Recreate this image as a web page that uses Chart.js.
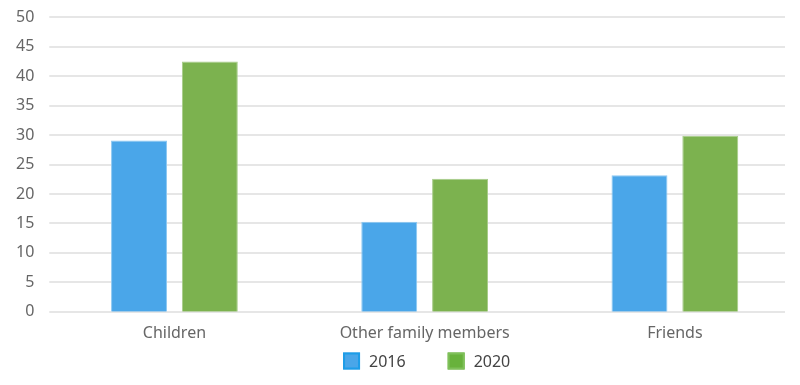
<!DOCTYPE html>
<html>
<head>
<meta charset="utf-8">
<script src="https://cdn.jsdelivr.net/npm/chart.js@4"></script>
<style>
  html, body { margin: 0; padding: 0; background: #fff; }
  #wrap { width: 800px; height: 385px; }
</style>
</head>
<body>
<div id="wrap"><canvas id="chart" width="800" height="385"></canvas></div>
<script>
const categories = ['Children', 'Other family members', 'Friends'];
const series2016 = [29.1, 15.3, 23.2];
const series2020 = [42.5, 22.6, 29.9];
const yTicks = [0, 5, 10, 15, 20, 25, 30, 35, 40, 45, 50];

const fontFamily = '"Noto Sans", "DejaVu Sans", sans-serif';
const legendStrokes = ['#1d9de8', '#7fc05a'];
const legendFills = ['#4aa6e9', '#68b23c'];

// horizontal grid lines stop short of the right edge, as in the reference
const gridPlugin = {
    id: 'shortGrid',
    beforeDatasetsDraw(chart) {
        const c = chart.ctx;
        const y = chart.scales.y;
        const area = chart.chartArea;
        c.save();
        c.strokeStyle = '#e6e6e6';
        c.lineWidth = 2;
        y.ticks.forEach(function(t) {
            const py = Math.round(y.getPixelForValue(t.value));
            c.beginPath();
            c.moveTo(area.left, py);
            c.lineTo(785, py);
            c.stroke();
        });
        c.restore();
    }
};

// legend drawn under the axis, centred on the plot area
const legendPlugin = {
    id: 'bottomLegend',
    afterDraw(chart) {
        const c = chart.ctx;
        const area = chart.chartArea;
        const box = 17, gap = 9, spacing = 42;
        c.save();
        c.font = '16px ' + fontFamily;
        c.textBaseline = 'middle';
        const items = chart.data.datasets.map(function(ds, i) {
            return { text: ds.label, w: box + gap + c.measureText(ds.label).width, i: i };
        });
        let total = 0;
        items.forEach(function(it, k) { total += it.w + (k ? spacing : 0); });
        let x = (area.left + area.right) / 2 - total / 2 + 2;
        const cy = 361;
        items.forEach(function(it) {
            c.fillStyle = legendFills[it.i];
            c.fillRect(x, cy - box / 2, box, box);
            c.strokeStyle = legendStrokes[it.i];
            c.lineWidth = 2;
            c.strokeRect(x + 1, cy - box / 2 + 1, box - 2, box - 2);
            c.fillStyle = '#444';
            c.fillText(it.text, x + box + gap, cy + 1);
            x += it.w + spacing;
        });
        c.restore();
    }
};

const ctx = document.getElementById('chart').getContext('2d');
new Chart(ctx, {
    type: 'bar',
    data: {
        labels: categories,
        datasets: [{
            label: '2016',
            data: series2016,
            backgroundColor: '#4aa6e9',
            borderColor: '#8cc8f2',
            borderWidth: 1,
            categoryPercentage: 0.566,
            barPercentage: 0.79
        }, {
            label: '2020',
            data: series2020,
            backgroundColor: '#7cb24f',
            borderColor: '#a6cc88',
            borderWidth: 1,
            categoryPercentage: 0.566,
            barPercentage: 0.79
        }]
    },
    plugins: [gridPlugin, legendPlugin],
    options: {
        responsive: false,
        animation: false,
        layout: { padding: { top: 0, right: 0, left: 1, bottom: 30 } },
        plugins: {
            tooltip: { enabled: false },
            legend: { display: false }
        },
        scales: {
            x: {
                grid: { display: false, drawTicks: false },
                border: { display: false },
                ticks: { color: '#666', font: { family: fontFamily, size: 16 }, padding: 12 }
            },
            y: {
                min: 0,
                max: 50,
                afterBuildTicks: function(axis) {
                    axis.ticks = yTicks.map(function(v) { return { value: v }; });
                },
                grid: { display: false, drawTicks: false },
                border: { display: false },
                ticks: { color: '#666', font: { family: fontFamily, size: 16, lineHeight: 0.3 }, padding: 15 }
            }
        }
    }
});
</script>
</body>
</html>
